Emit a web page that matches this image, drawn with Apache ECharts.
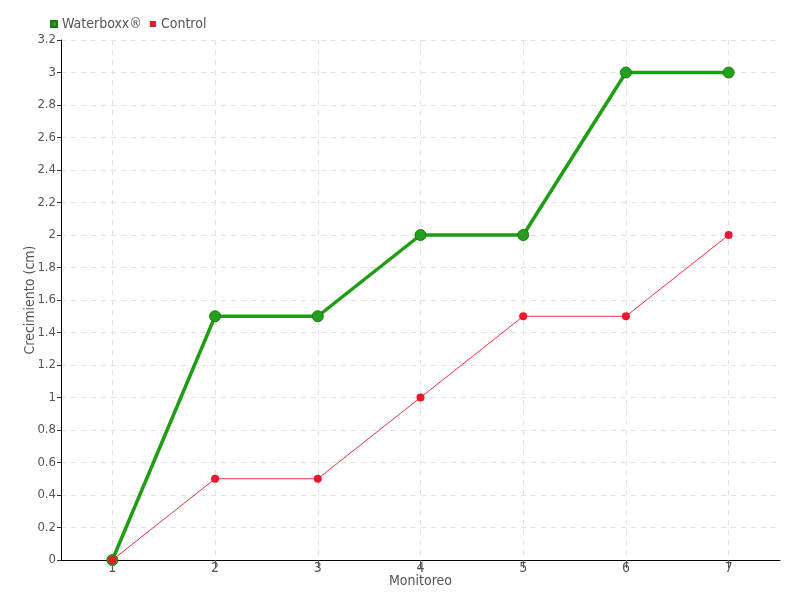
<!DOCTYPE html>
<html><head><meta charset="utf-8">
<script src="https://cdn.jsdelivr.net/npm/echarts@6/dist/echarts.min.js"></script>
<style>html,body{margin:0;padding:0;background:#fff}#c{width:800px;height:600px}</style>
</head><body><div id="c"></div>
<script>
const monitoreo = [1, 2, 3, 4, 5, 6, 7];
const waterboxx = [0, 1.5, 1.5, 2, 2, 3, 3];
const control = [0, 0.5, 0.5, 1, 1.5, 1.5, 2];
const FONT = '"DejaVu Sans Condensed", "Liberation Sans Narrow", sans-serif';
const chart = echarts.init(document.getElementById('c'));
chart.setOption({
  animation: false,
  textStyle: {fontFamily: FONT},
  legend: {
    left: 45, top: 12, itemWidth: 6, itemHeight: 6, itemGap: 8,
    icon: 'rect',
    textStyle: {fontFamily: FONT, fontSize: 14, color: '#555'},
    data: ['Waterboxx®', 'Control']
  },
  grid: {left: 61, right: 20, top: 40, bottom: 40, containLabel: false},
  xAxis: {
    type: 'value', min: 0.5, max: 7.5,
    name: 'Monitoreo', nameLocation: 'middle', nameGap: 14, nameMoveOverlap: false,
    nameTextStyle: {fontFamily: FONT, fontSize: 14, color: '#555'},
    axisLine: {show: true, onZero: false, lineStyle: {color: '#000', width: 1}},
    axisTick: {show: true, length: 8, inside: false, customValues: monitoreo, lineStyle: {color: '#555'}},
    axisLabel: {customValues: monitoreo, fontFamily: FONT, fontSize: 14, color: '#555', margin: 1},
    splitLine: {show: true, lineStyle: {color: '#e2e2e2', type: [5, 5]}}
  },
  yAxis: {
    type: 'value', min: 0, max: 3.2, interval: 0.2,
    name: 'Crecimiento (cm)', nameLocation: 'middle', nameGap: 24, nameMoveOverlap: false,
    nameTextStyle: {fontFamily: FONT, fontSize: 14, color: '#555'},
    axisLine: {show: true, lineStyle: {color: '#000', width: 1}},
    axisTick: {show: true, length: 4, lineStyle: {color: '#333'}},
    axisLabel: {fontFamily: FONT, fontSize: 13, color: '#555', margin: 5},
    splitLine: {show: true, lineStyle: {color: '#e2e2e2', type: [5, 5]}}
  },
  series: [
    {
      name: 'Waterboxx®', type: 'line',
      data: monitoreo.map((m, i) => [m, waterboxx[i]]),
      symbol: 'circle', symbolSize: 11,
      lineStyle: {color: '#1f9e14', width: 3.5},
      itemStyle: {color: '#22a01c', borderColor: '#1b7a16', borderWidth: 1},
      z: 2
    },
    {
      name: 'Control', type: 'line',
      data: monitoreo.map((m, i) => [m, control[i]]),
      symbol: 'circle', symbolSize: 8,
      lineStyle: {color: '#f0303f', width: 1},
      itemStyle: {color: '#e8192c'},
      z: 3
    }
  ]
});
</script></body></html>
